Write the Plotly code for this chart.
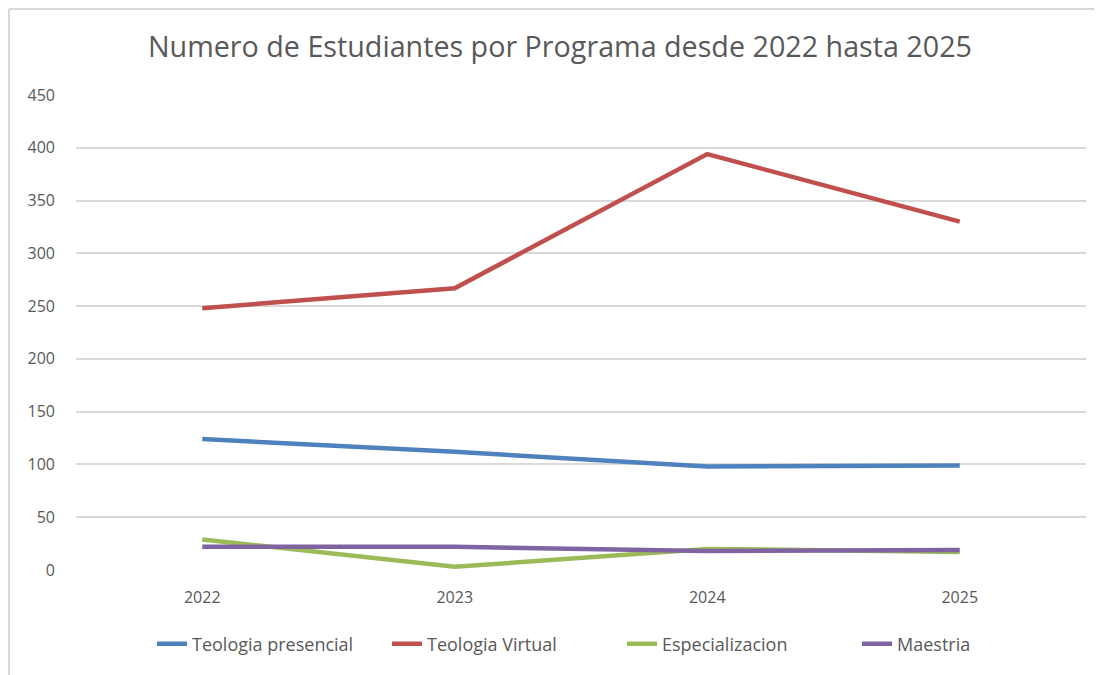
import plotly.graph_objects as go

years = ["2022", "2023", "2024", "2025"]
teologia_presencial = [124, 112, 98, 99]
teologia_virtual = [248, 267, 394, 330]
especializacion = [29, 3, 20, 17]
maestria = [22, 22, 18, 19]

series = [
    ("Teologia presencial", teologia_presencial, "#4f81bd"),
    ("Teologia Virtual", teologia_virtual, "#c0504d"),
    ("Especializacion", especializacion, "#9bbb59"),
    ("Maestria", maestria, "#8064a2"),
]

fig = go.Figure()
for name, vals, color in series:
    fig.add_trace(go.Scatter(x=years, y=vals, mode="lines", name=name,
                             line=dict(color=color, width=4.5)))

# page is rendered with an 8px body offset
OFF = 8
W, H = 1102, 675
L, R, T, B = 76 - OFF, W - (1086 - OFF), 95 - OFF, H - (570 - OFF)
pw, ph = W - L - R, H - T - B
bx = (1 - L) / pw
by = (H - B - 1) / ph

fig.update_layout(
    width=W, height=H,
    margin=dict(l=L, r=R, t=T, b=B),
    paper_bgcolor="white", plot_bgcolor="white",
    font=dict(family="Open Sans", color="#595959", size=16),
    title=dict(text="Numero de Estudiantes por Programa desde 2022 hasta 2025",
               x=(560 - OFF - L) / pw, xref="paper", xanchor="center",
               y=(H - (47 - OFF)) / H, yanchor="middle",
               font=dict(size=28.7, color="#595959", family="Open Sans")),
    xaxis=dict(type="category", range=[-0.5, 3.5], showgrid=False, zeroline=False,
               showline=False, ticks="", ticklabelstandoff=16,
               tickfont=dict(size=16, color="#595959")),
    yaxis=dict(range=[0, 450], dtick=50, showgrid=True, gridcolor="#d9d9d9", gridwidth=1.5,
               zeroline=False, showline=False, ticks="", ticklabelstandoff=20,
               tickfont=dict(size=16, color="#595959")),
    legend=dict(orientation="h", x=(152 - OFF - L) / pw, xanchor="left",
                y=(H - B - (644 - OFF)) / ph, yanchor="middle",
                font=dict(size=18, color="#595959"),
                entrywidth=190, entrywidthmode="pixels",
                traceorder="normal"),
    showlegend=True,
    shapes=[
        dict(type="line", xref="paper", yref="paper", x0=bx, x1=1.1, y0=by, y1=by,
             line=dict(color="#d9d9d9", width=2)),
        dict(type="line", xref="paper", yref="paper", x0=bx, x1=bx, y0=by, y1=-0.3,
             line=dict(color="#d9d9d9", width=2)),
    ],
)

fig.write_html("out.html")
